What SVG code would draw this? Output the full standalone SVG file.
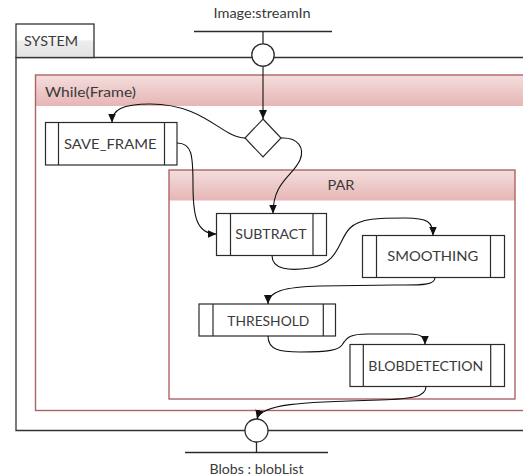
<svg xmlns="http://www.w3.org/2000/svg" width="523" height="476" viewBox="0 0 523 476">
  <defs>
    <linearGradient id="hdr" x1="0" y1="0" x2="0" y2="1">
      <stop offset="0" stop-color="#f3dedd"/>
      <stop offset="1" stop-color="#e6b6b5"/>
    </linearGradient>
    <linearGradient id="tab" x1="0" y1="0" x2="0" y2="1">
      <stop offset="0" stop-color="#ffffff"/>
      <stop offset="0.48" stop-color="#ffffff"/>
      <stop offset="0.5" stop-color="#eeeeee"/>
      <stop offset="1" stop-color="#e2e2e2"/>
    </linearGradient>
    <marker id="arr" markerUnits="userSpaceOnUse" markerWidth="9" markerHeight="8" refX="9" refY="4" orient="auto">
      <path d="M0,0 L9,4 L0,8 z" fill="#111"/>
    </marker>
  </defs>
  <style>
    text { font-family: "Lato", "Liberation Sans", sans-serif; font-size: 14px; fill: #3a3a3a; }
    .frame { fill: none; stroke: #333; stroke-width: 1.3; }
    .cont { fill: none; stroke: #ad6464; stroke-width: 1.4; }
    .box { fill: #fff; stroke: #2a2a2a; stroke-width: 1.2; }
    .bar { stroke: #2a2a2a; stroke-width: 1.2; }
    .port { fill: #fff; stroke: #2a2a2a; stroke-width: 1.3; }
    .pin { stroke: #2a2a2a; stroke-width: 1.3; fill: none; }
    .conn path { fill: none; stroke: #111; stroke-width: 1.1; marker-end: url(#arr); }
  </style>

  <!-- outer SYSTEM frame, open on the right -->
  <g id="system">
    <path class="frame" d="M523,57.5 L16,57.5 L16,430.5 L523,430.5"/>
    <rect x="16" y="24" width="78" height="33.5" fill="url(#tab)" stroke="#333" stroke-width="1.3"/>
    <text x="24" y="45.5" textLength="54" lengthAdjust="spacingAndGlyphs">SYSTEM</text>
  </g>

  <!-- While(Frame) loop region -->
  <g id="while">
    <rect x="35.5" y="75" width="500" height="335.5" fill="#fff"/>
    <rect x="35.5" y="75" width="500" height="31" fill="url(#hdr)"/>
    <rect class="cont" x="35.5" y="75" width="500" height="335.5"/>
    <text x="45" y="96.5" textLength="91" lengthAdjust="spacingAndGlyphs">While(Frame)</text>
  </g>

  <!-- PAR region -->
  <g id="par">
    <rect x="169" y="170" width="346" height="229" fill="#fff"/>
    <rect x="169" y="170" width="346" height="30.5" fill="url(#hdr)"/>
    <rect class="cont" x="169" y="170" width="346" height="229"/>
    <text x="341" y="190" text-anchor="middle" textLength="27" lengthAdjust="spacingAndGlyphs">PAR</text>
  </g>

  <!-- input port -->
  <g id="port-in">
    <line class="pin" x1="194" y1="31.5" x2="332" y2="31.5"/>
    <line class="pin" x1="263" y1="31.5" x2="263" y2="44"/>
    <circle class="port" cx="263" cy="55" r="11.2"/>
    <text x="262" y="18.3" text-anchor="middle" textLength="97" lengthAdjust="spacingAndGlyphs">Image:streamIn</text>
  </g>

  <!-- output port -->
  <g id="port-out">
    <line class="pin" x1="185" y1="452.5" x2="328" y2="452.5"/>
    <line class="pin" x1="256.5" y1="441" x2="256.5" y2="452.5"/>
    <circle class="port" cx="256.5" cy="430.5" r="11.5"/>
    <text x="256.5" y="473.5" text-anchor="middle" textLength="94" lengthAdjust="spacingAndGlyphs">Blobs : blobList</text>
  </g>

  <!-- decision -->
  <g id="decision">
    <polygon class="box" points="263,119 281,138 263,157 245,138"/>
  </g>

  <g id="save-frame">
    <rect class="box" x="45.5" y="122.5" width="131.5" height="42.5"/>
    <line class="bar" x1="58.5" y1="122.5" x2="58.5" y2="165"/>
    <line class="bar" x1="164.5" y1="122.5" x2="164.5" y2="165"/>
    <text x="64" y="149.3" textLength="92.5" lengthAdjust="spacingAndGlyphs">SAVE_FRAME</text>
  </g>

  <g id="subtract">
    <rect class="box" x="216.5" y="213.5" width="110" height="42"/>
    <line class="bar" x1="230.5" y1="213.5" x2="230.5" y2="255.5"/>
    <line class="bar" x1="313" y1="213.5" x2="313" y2="255.5"/>
    <text x="235.3" y="239.3" textLength="71.3" lengthAdjust="spacingAndGlyphs">SUBTRACT</text>
  </g>

  <g id="smoothing">
    <rect class="box" x="362.5" y="235.5" width="142" height="42"/>
    <line class="bar" x1="376.5" y1="235.5" x2="376.5" y2="277.5"/>
    <line class="bar" x1="490.5" y1="235.5" x2="490.5" y2="277.5"/>
    <text x="387.3" y="261" textLength="91" lengthAdjust="spacingAndGlyphs">SMOOTHING</text>
  </g>

  <g id="threshold">
    <rect class="box" x="199" y="304" width="136.5" height="32"/>
    <line class="bar" x1="213" y1="304" x2="213" y2="336"/>
    <line class="bar" x1="323.3" y1="304" x2="323.3" y2="336"/>
    <text x="227.3" y="325.7" textLength="82" lengthAdjust="spacingAndGlyphs">THRESHOLD</text>
  </g>

  <g id="blobdetection">
    <rect class="box" x="350" y="344.5" width="154.5" height="42"/>
    <line class="bar" x1="363.3" y1="344.5" x2="363.3" y2="386.5"/>
    <line class="bar" x1="490.7" y1="344.5" x2="490.7" y2="386.5"/>
    <text x="368.3" y="370.7" textLength="115" lengthAdjust="spacingAndGlyphs">BLOBDETECTION</text>
  </g>

  <!-- control flow -->
  <g id="connectors" class="conn">
    <path d="M263,66.2 L263,119"/>
    <path d="M245,138 C222,138 205,104 150,104 C122,104 112,110 112,122.5"/>
    <path d="M281,138 C298,137 305,148 300,160 C293,176 273,182 273,213.5"/>
    <path d="M177,143 C192,143 193,155 193,185 C193,215 196,234 216.5,234"/>
    <path d="M272,255.5 C272,270 290,271 310,268 C340,263 338,240 350,228 C360,218 380,218 405,218 C428,218 433,222 433,235.5"/>
    <path d="M435,277.5 C435,286 418,285 395,285 L320,286 C285,287 268,291 268,304"/>
    <path d="M268,336 C268,350 280,352 300,352 C330,352 338,350 342,345 C347,337 350,334 368,334 L410,334 C421,334 425,337 425,344.5"/>
    <path d="M426,386.5 C426,397 412,399 380,400 C300,402 261,404 257,419"/>
  </g>
</svg>
